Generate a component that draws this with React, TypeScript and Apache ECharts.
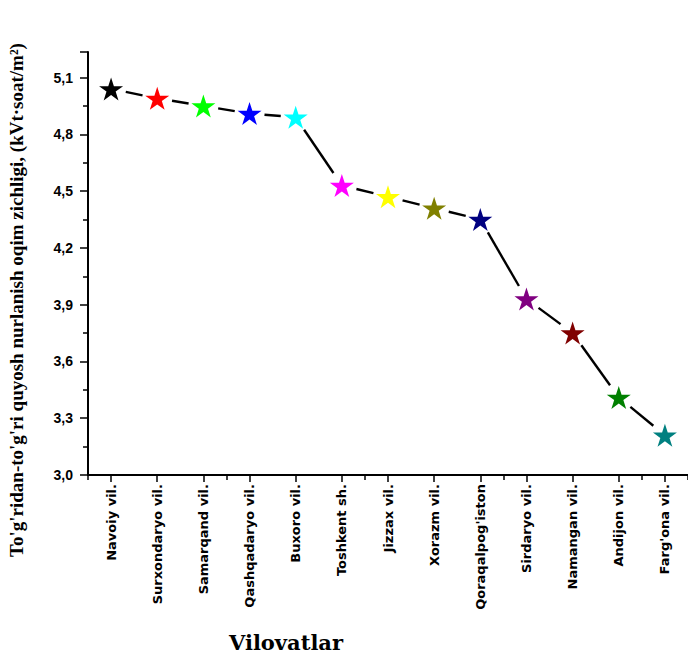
import React, { useEffect, useRef } from "react";
import * as echarts from "echarts";

const categories = [
  "Navoiy vil.",
  "Surxondaryo vil.",
  "Samarqand vil.",
  "Qashqadaryo vil.",
  "Buxoro vil.",
  "Toshkent sh.",
  "Jizzax vil.",
  "Xorazm vil.",
  "Qoraqalpog'iston",
  "Sirdaryo vil.",
  "Namangan vil.",
  "Andijon vil.",
  "Farg'ona vil.",
];

const values = [5.04, 4.99, 4.95, 4.91, 4.89, 4.53, 4.47, 4.41, 4.35, 3.93, 3.75, 3.41, 3.21];

const starColors = [
  "#000000",
  "#ff0000",
  "#00ff00",
  "#0000ff",
  "#00ffff",
  "#ff00ff",
  "#ffff00",
  "#808000",
  "#000080",
  "#800080",
  "#800000",
  "#008000",
  "#008080",
];

const yTitle = "To'g'ridan-to'g'ri quyosh nurlanish oqim zichligi, (kVt·soat/m²)";
const xTitle = "Vilovatlar";

const STAR =
  "path://M50,0 L61.2,34.5 L97.6,34.5 L68.2,55.9 L79.4,90.5 L50,69.1 L20.6,90.5 L31.8,55.9 L2.4,34.5 L38.8,34.5 Z";

export default function App() {
  const ref = useRef<HTMLDivElement>(null);

  useEffect(() => {
    if (!ref.current) return;
    const chart = echarts.init(ref.current, null, { renderer: "svg" });
    const segData = values.slice(0, -1).map((v, i) => [i, v]);
    chart.setOption({
      animation: false,
      backgroundColor: "#ffffff",
      grid: { left: 88, top: 52, width: 607, height: 423, containLabel: false },
      xAxis: [
        {
          type: "category",
          data: categories,
          position: "bottom",
          boundaryGap: true,
          axisLine: { show: true, lineStyle: { color: "#000", width: 2 } },
          axisTick: { show: true, alignWithLabel: true, length: 7, lineStyle: { color: "#000", width: 1.5 } },
          axisLabel: {
            rotate: 90,
            margin: 9,
            interval: 0,
            color: "#000",
            fontFamily: "DejaVu Sans",
            fontWeight: "bold",
            fontSize: 13,
          },
          splitLine: { show: false },
        },
        {
          type: "category",
          data: categories,
          position: "bottom",
          offset: 0,
          boundaryGap: true,
          axisLine: { show: false },
          axisTick: { show: true, alignWithLabel: false, length: 5, lineStyle: { color: "#000", width: 1.5 } },
          axisLabel: { show: false },
          splitLine: { show: false },
        },
      ],
      yAxis: {
        type: "value",
        min: 3.0,
        max: 5.235,
        interval: 0.3,
        axisLine: { show: true, lineStyle: { color: "#000", width: 2 } },
        axisTick: { show: true, length: 8, lineStyle: { color: "#000", width: 1.5 } },
        minorTick: { show: true, splitNumber: 2, length: 5, lineStyle: { color: "#000", width: 1.5 } },
        axisLabel: {
          margin: 15,
          showMaxLabel: false,
          color: "#000",
          fontFamily: "Liberation Sans",
          fontWeight: "bold",
          fontSize: 14,
          formatter: (v: number) => v.toFixed(1).replace(".", ","),
        },
        splitLine: { show: false },
        minorSplitLine: { show: false },
      },
      series: [
        {
          type: "custom",
          xAxisIndex: 0,
          yAxisIndex: 0,
          data: segData,
          silent: true,
          renderItem: (params: any, api: any) => {
            const i = params.dataIndex;
            const p0 = api.coord([i, values[i]]);
            const p1 = api.coord([i + 1, values[i + 1]]);
            const dx = p1[0] - p0[0];
            const dy = p1[1] - p0[1];
            const len = Math.hypot(dx, dy);
            const g = 15;
            const ux = dx / len;
            const uy = dy / len;
            return {
              type: "line",
              shape: {
                x1: p0[0] + ux * g,
                y1: p0[1] + uy * g,
                x2: p1[0] - ux * g,
                y2: p1[1] - uy * g,
              },
              style: { stroke: "#000", lineWidth: 2.4 },
            };
          },
        },
        {
          type: "scatter",
          xAxisIndex: 0,
          yAxisIndex: 0,
          symbol: STAR,
          symbolSize: [24, 23],
          itemStyle: { opacity: 1 },
          data: values.map((v, i) => ({
            value: [i, v],
            itemStyle: { color: starColors[i], opacity: 1 },
          })),
        },
      ],
      graphic: [
        {
          type: "text",
          x: 16,
          y: 300,
          rotation: Math.PI / 2,
          style: {
            text: yTitle,
            fill: "#000",
            font: "bold 19px 'Liberation Serif'",
            textAlign: "center",
            textVerticalAlign: "middle",
          },
        },
        {
          type: "text",
          x: 286,
          y: 642,
          style: {
            text: xTitle,
            fill: "#000",
            font: "bold 21px 'DejaVu Serif'",
            textAlign: "center",
            textVerticalAlign: "middle",
          },
        },
      ],
    });
    return () => chart.dispose();
  }, []);

  return (
    <div
      ref={ref}
      style={{ position: "absolute", left: 0, top: 0, width: 688, height: 657 }}
    />
  );
}
